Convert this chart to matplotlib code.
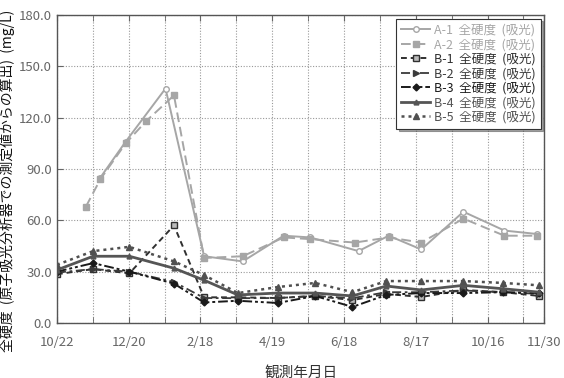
import matplotlib
matplotlib.use('Agg')
import matplotlib.pyplot as plt
import numpy as np

plt.rcParams['font.family'] = ['Noto Sans CJK JP', 'DejaVu Sans']

# days counted from 10/22 (first observation)
a1_days = [36, 57, 90, 122, 154, 188, 210, 250, 275, 302, 337, 371, 398]
a1_vals = [85, 106, 137, 39, 36, 51, 50, 42, 51, 43, 65, 54, 52]

a2_days = [24, 36, 57, 74, 97, 122, 154, 188, 210, 247, 275, 302, 337, 371, 398]
a2_vals = [68, 84, 105, 118, 133, 38, 39, 50, 49, 47, 50, 47, 61, 51, 51]

b_days = [0, 30, 60, 97, 122, 150, 183, 214, 245, 273, 302, 337, 370, 400]
b1_vals = [28.5, 31.5, 29, 57, 15, 15, 14.6, 15.8, 13.4, 17, 15.2, 19.3, 18, 15.8]
b2_vals = [29.5, 31.5, 30, 24, 14.6, 14.5, 14.6, 15.8, 14.5, 18, 18, 19, 18, 17]
b3_vals = [30, 35, 30, 23, 12, 13, 11.7, 15.8, 9.4, 16.4, 17.5, 17.5, 18, 17.5]
b4_vals = [31, 39, 39, 32, 25, 16.4, 17.5, 17.5, 15.8, 21.6, 19.3, 22, 20, 18]
b5_vals = [34, 42, 44.5, 36, 28, 17.5, 21, 23.4, 18, 24.5, 24.5, 24.5, 23.4, 22]

tick_days = [0, 59.5, 119, 178.5, 238, 297.5, 357, 404]
tick_labels = ['10/22', '12/20', '2/18', '4/19', '6/18', '8/17', '10/16', '11/30']

fig = plt.figure(figsize=(5.64, 3.78), dpi=100)
ax = fig.add_axes([0.101, 0.1455, 0.864, 0.815])

light = '#a6a6a6'
ax.plot(a1_days, a1_vals, color=light, lw=1.4, ls='-', marker='o', ms=4,
        mfc='white', mec=light, label='A-1  全硬度  (吸光)')
ax.plot(a2_days, a2_vals, color=light, lw=1.4, ls=(0, (5, 2.5)), marker='s', ms=4,
        mfc=light, mec=light, label='A-2  全硬度  (吸光)')
ax.plot(b_days, b1_vals, color='#303030', lw=1.4, ls=(0, (3, 2)), marker='s', ms=4,
        mfc='#bbbbbb', mec='#303030', label='B-1  全硬度  (吸光)')
ax.plot(b_days, b2_vals, color='#3a3a3a', lw=1.3, ls=(0, (5, 2, 1.5, 2)), marker='>', ms=4,
        mfc='#3a3a3a', mec='#3a3a3a', label='B-2  全硬度  (吸光)')
ax.plot(b_days, b3_vals, color='#1a1a1a', lw=1.4, ls=(0, (5, 1.5, 1.5, 1.5, 1.5, 1.5)),
        marker='D', ms=3.5, mfc='#1a1a1a', mec='#1a1a1a', label='B-3  全硬度  (吸光)')
ax.plot(b_days, b4_vals, color='#555555', lw=2.0, ls='-', marker='^', ms=3.5,
        mfc='#555555', mec='#555555', label='B-4  全硬度  (吸光)')
ax.plot(b_days, b5_vals, color='#505050', lw=1.8, ls=(0, (1.2, 1.6)), marker='^', ms=4,
        mfc='#505050', mec='#505050', label='B-5  全硬度  (吸光)')

ax.set_xlim(0, 404)
ax.set_ylim(0, 180)
ax.set_yticks(np.arange(0, 181, 30))
ax.set_yticklabels(['%.1f' % v for v in np.arange(0, 181, 30)])
ax.set_xticks(tick_days)
ax.set_xticklabels(tick_labels)
ax.set_xticks(np.arange(29.75, 404, 59.5), minor=True)

ax.grid(True, which='both', axis='x', color='#999999', ls=(0, (1, 1.5)), lw=0.8)
ax.grid(True, which='major', axis='y', color='#999999', ls=(0, (1, 1.5)), lw=0.8)
ax.tick_params(axis='both', which='both', direction='in', colors='#666666',
               labelsize=9.5, top=True, length=4)
ax.tick_params(axis='x', which='major', pad=9)
for s in ax.spines.values():
    s.set_color('#555555')
    s.set_linewidth(1.0)

ax.set_xlabel('観測年月日', fontsize=10.5, color='#333333', labelpad=12)
ax.set_ylabel('全硬度  (原子吸光分析器での測定値からの算出)  (mg/L)', fontsize=10,
              color='#111111')
ax.yaxis.set_label_coords(-0.087, 0.46)

leg = ax.legend(loc='upper right', fontsize=9, frameon=True, shadow=True, fancybox=False,
                handlelength=2.3, handletextpad=0.3, labelspacing=0.12,
                borderaxespad=0.3, borderpad=0.4)
leg.get_frame().set_edgecolor('#333333')
leg.get_frame().set_linewidth(0.8)
for txt, line in zip(leg.get_texts(), leg.get_lines()):
    txt.set_color(line.get_color())

fig.savefig('out.png', dpi=100)
